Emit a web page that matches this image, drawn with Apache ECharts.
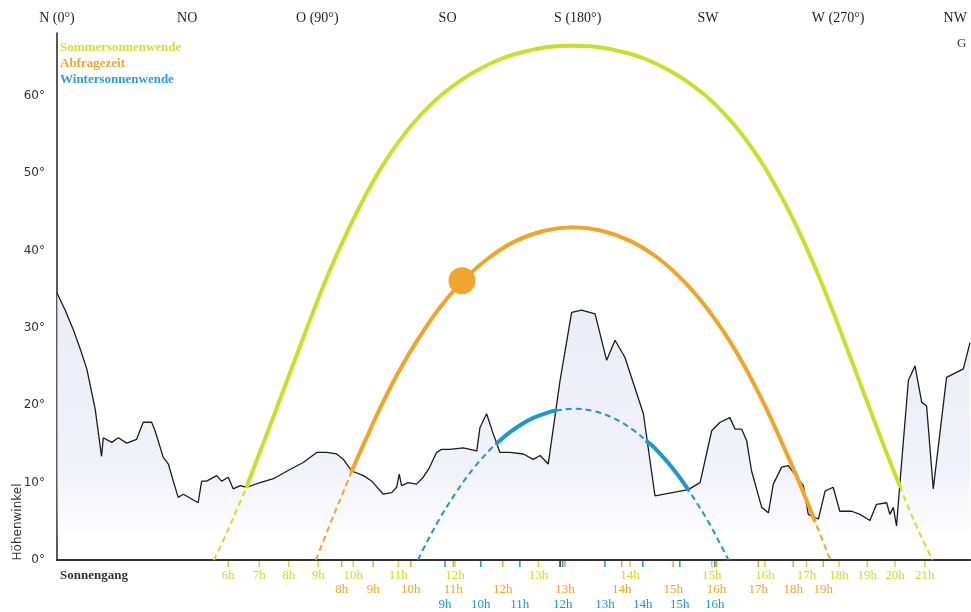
<!DOCTYPE html>
<html>
<head>
<meta charset="utf-8">
<script src="https://cdn.jsdelivr.net/npm/echarts@6/dist/echarts.min.js"></script>
<style>
  html, body { margin: 0; padding: 0; background: #ffffff; }
  #chart { width: 971px; height: 612px; }
</style>
</head>
<body>
<div id="chart"></div>
<script>
// Compass directions along the top axis (azimuth, degrees)
const compassTicks = [0, 45, 90, 135, 180, 225, 270, 315];
const compassNames = ['N (0°)', 'NO', 'O (90°)', 'SO', 'S (180°)', 'SW', 'W (270°)', 'NW'];

// Terrain horizon: [azimuth, elevation]
const horizonProfile = [
  [0, 34.5], [2.8, 32.3], [5.6, 29.8], [8.0, 27.3], [10.3, 24.7], [13.2, 19.5], [15.4, 13.4],
  [16.0, 15.8], [18.9, 15.2], [21.2, 15.8], [24.1, 15.1], [27.5, 15.6], [29.8, 17.8], [32.7, 17.8],
  [33.9, 16.7], [36.7, 13.3], [38.5, 12.4], [40.2, 10.2], [41.9, 8.1], [43.7, 8.5], [48.8, 7.4],
  [50.0, 10.2], [51.7, 10.2], [55.2, 10.9], [56.9, 10.2], [59.2, 10.7], [60.9, 9.2], [63.3, 9.6],
  [65.6, 9.4], [70.2, 10.0], [74.8, 10.5], [80.5, 11.7], [85.1, 12.6], [89.8, 13.9], [93.2, 13.9],
  [96.7, 13.7], [99.0, 13.0], [101.9, 11.5], [105.9, 10.9], [108.8, 10.2], [112.8, 8.5], [115.7, 8.7],
  [117.4, 9.4], [118.3, 11.1], [119.1, 9.6], [121.4, 10.0], [124.3, 9.8], [126.6, 10.7], [128.4, 11.7],
  [131.2, 13.9], [132.9, 14.3], [135.8, 14.3], [140.4, 14.5], [145.1, 14.1], [146.2, 17.1], [148.5, 18.9],
  [150.8, 16.3], [152.1, 15.0], [153.1, 13.9], [156.6, 13.9], [161.2, 13.7], [164.6, 13.0], [167.0, 13.5],
  [169.8, 12.4], [173.9, 23.2], [177.9, 32.0], [181.3, 32.3], [186.0, 31.8], [190.0, 25.8], [192.9, 28.4],
  [196.3, 26.2], [202.7, 18.9], [206.7, 8.3], [218.2, 9.1], [222.3, 10.0], [226.3, 16.7], [229.2, 17.8],
  [232.6, 18.4], [234.4, 16.9], [236.7, 16.9], [238.4, 15.4], [240.1, 11.5], [243.6, 6.8], [245.9, 6.1],
  [247.6, 9.8], [250.5, 12.0], [252.8, 12.2], [255.7, 10.7], [258.0, 9.6], [259.7, 5.9], [263.2, 5.3],
  [265.5, 8.9], [268.3, 9.4], [270.6, 6.3], [274.7, 6.3], [277.6, 5.9], [281.0, 5.1], [283.3, 7.2],
  [286.8, 7.4], [287.9, 5.9], [289.1, 6.8], [290.2, 4.4], [291.3, 9.6], [294.3, 23.2], [296.6, 25.1],
  [298.9, 20.4], [300.6, 19.9], [302.9, 9.2], [307.5, 23.6], [313.3, 24.7], [315.6, 28.1]
];

// Sun paths: [azimuth, elevation]
const summerPath = [
  [54.2, 0], [58.0, 2.95], [63.2, 7.41], [65.6, 9.5], [68.2, 12.08], [73.2, 16.91], [78.2, 21.88],
  [83.3, 26.92], [88.5, 32.03], [94.0, 37.14], [100.1, 42.21], [106.7, 47.17], [114.2, 51.93],
  [123.1, 56.4], [133.7, 60.34], [146.6, 63.55], [161.5, 65.67], [178.4, 66.44], [195.3, 65.67],
  [210.2, 63.55], [223.1, 60.34], [233.7, 56.4], [242.6, 51.93], [250.1, 47.17], [256.8, 42.21],
  [262.8, 37.14], [268.3, 32.03], [273.5, 26.92], [278.6, 21.88], [283.6, 16.91], [288.6, 12.08],
  [291.3, 9.6], [293.6, 7.41], [298.8, 2.95], [302.6, 0]
];
const summerVisible = [[65.6, 291.3]];

const queryPath = [
  [89.5, 0], [94.9, 5.11], [100.5, 10.17], [101.9, 11.5], [106.2, 15.13], [112.1, 19.94], [118.4, 24.53],
  [125.3, 28.83], [132.6, 32.76], [140.6, 36.2], [149.3, 39.06], [158.5, 41.21], [168.5, 42.55],
  [178.4, 43.0], [188.3, 42.55], [198.3, 41.21], [207.6, 39.06], [216.2, 36.2], [224.2, 32.76],
  [231.6, 28.83], [238.4, 24.53], [244.7, 19.94], [250.6, 15.13], [256.4, 10.17], [261.9, 5.11], [267.3, 0]
];
const queryVisible = [[101.9, 261.9]];

const winterPath = [
  [124.8, 0], [126.4, 1.26], [132.0, 5.16], [137.9, 8.71], [144.0, 11.86], [150.4, 14.54], [152.1, 15.1],
  [157.2, 16.69], [164.1, 18.27], [171.2, 19.23], [172.4, 19.3], [178.4, 19.56], [185.6, 19.23],
  [192.7, 18.27], [199.6, 16.69], [204.0, 15.3], [206.4, 14.54], [212.8, 11.86], [218.2, 9.1],
  [218.9, 8.71], [224.8, 5.16], [230.4, 1.26], [232.1, 0]
];
const winterVisible = [[152.1, 172.4], [204.0, 218.2]];

// Current sun position
const sunPosition = [140.0, 36.1];

// Hour marks along the azimuth axis
const summerHourLabels = ['6h','7h','8h','9h','10h','11h','12h','13h','14h','15h','16h','17h','18h','19h','20h','21h'];
const summerHourAz = [59.2, 69.9, 80.1, 90.3, 102.4, 118.0, 137.6, 166.4, 198.1, 226.3, 244.7, 259.1, 270.3, 280.1, 289.7, 300.0];
const queryHourLabels = ['8h','9h','10h','11h','12h','13h','14h','15h','16h','17h','18h','19h'];
const queryHourAz = [98.4, 109.3, 122.3, 137.0, 154.1, 175.6, 195.2, 213.0, 228.0, 242.4, 254.5, 264.9];
const winterHourLabels = ['9h','10h','11h','12h','13h','14h','15h','16h'];
const winterHourAz = [134.1, 146.5, 160.0, 174.8, 189.4, 202.5, 215.3, 227.4];
const noonMarkAz = [173.9];

const COL_SUMMER = '#c8e02c';
const COL_QUERY = '#f0a52a';
const COL_WINTER = '#1e97c9';
const SERIF = '"Liberation Serif", "DejaVu Serif", serif';
const SANS = '"DejaVu Sans", Verdana, sans-serif';

function pathSeries(path, visible, color) {
  const list = [{
    type: 'line', data: path, showSymbol: false, symbol: 'none', smooth: 0.4, z: 3,
    lineStyle: { color: color, width: 2, type: [6, 4] }, silent: true
  }];
  visible.forEach(function (r) {
    list.push({
      type: 'line', data: path.filter(function (p) { return p[0] >= r[0] && p[0] <= r[1]; }),
      showSymbol: false, symbol: 'none', smooth: 0.4, z: 4,
      lineStyle: { color: color, width: 4, cap: 'round' }, silent: true
    });
  });
  return list;
}

function hourSeries(az, labels, color, dy) {
  return {
    type: 'scatter', clip: false, z: 6, silent: true,
    data: az.map(function (a, i) { return { value: [a, 0], name: labels ? labels[i] : '' }; }),
    symbol: 'rect', symbolSize: [1.5, 6], symbolOffset: [0, 4],
    itemStyle: { color: color, opacity: 1 },
    label: {
      show: !!labels, position: 'inside', offset: [0, dy], formatter: '{b}',
      color: color, fontFamily: SERIF, fontSize: 13
    }
  };
}

const chart = echarts.init(document.getElementById('chart'), null, { renderer: 'canvas' });

const series = [
  {
    type: 'line', data: horizonProfile, showSymbol: false, symbol: 'none', z: 2, silent: true,
    lineStyle: { color: '#1c1c1c', width: 1.3 },
    areaStyle: {
      origin: 'start',
      color: {
        type: 'linear', x: 0, y: 290, x2: 0, y2: 548, global: true,
        colorStops: [
          { offset: 0, color: 'rgba(226,226,243,0.95)' },
          { offset: 0.7, color: 'rgba(232,232,246,0.85)' },
          { offset: 0.88, color: 'rgba(238,238,248,0.45)' },
          { offset: 1, color: 'rgba(255,255,255,0)' }
        ]
      }
    }
  }
]
  .concat(pathSeries(winterPath, winterVisible, COL_WINTER))
  .concat(pathSeries(queryPath, queryVisible, COL_QUERY))
  .concat(pathSeries(summerPath, summerVisible, COL_SUMMER))
  .concat([
    {
      type: 'scatter', data: [sunPosition], symbol: 'circle', symbolSize: 27, z: 7, silent: true,
      itemStyle: { color: '#f2a52c', opacity: 1 }
    },
    hourSeries(summerHourAz, summerHourLabels, COL_SUMMER, 12),
    hourSeries(queryHourAz, queryHourLabels, COL_QUERY, 26),
    hourSeries(winterHourAz, winterHourLabels, COL_WINTER, 41),
    hourSeries(noonMarkAz, null, '#222222', 0)
  ]);

chart.setOption({
  animation: false,
  backgroundColor: '#ffffff',
  grid: { left: 57, right: 1, top: 33, bottom: 52, containLabel: false },
  xAxis: [
    {
      type: 'value', position: 'bottom', min: 0, max: 315.6,
      axisLine: { show: true, onZero: false, lineStyle: { color: '#222', width: 2 } },
      axisTick: { show: false }, axisLabel: { show: false }, splitLine: { show: false }
    },
    {
      type: 'value', position: 'top', min: 0, max: 315.6, interval: 45,
      axisLine: { show: true, lineStyle: { color: '#333', width: 2 } },
      axisTick: { show: false }, splitLine: { show: false },
      axisLabel: {
        margin: 8, color: '#222', fontFamily: SERIF, fontSize: 14,
        showMaxLabel: false,
        formatter: function (v) {
          const i = compassTicks.indexOf(v);
          if (i < 0) return '';
          return i === compassTicks.length - 1 ? '{r|' + compassNames[i] + '}' : compassNames[i];
        },
        rich: { r: { padding: [0, 26, 0, 0], color: '#222', fontFamily: SERIF, fontSize: 14 } }
      }
    }
  ],
  yAxis: {
    type: 'value', min: 0, max: 68.1, interval: 10,
    axisLine: { show: true, lineStyle: { color: '#222', width: 1.5 } },
    axisTick: { show: false }, splitLine: { show: false },
    axisLabel: {
      margin: 12, color: '#333', fontFamily: SANS, fontSize: 12, showMaxLabel: false,
      formatter: function (v) { return (Math.round(v) % 10 === 0 && Math.abs(v - Math.round(v)) < 1e-6) ? v + '°' : ''; }
    }
  },
  graphic: [
    { type: 'text', left: 60, top: 41, silent: true,
      style: { text: 'Sommersonnenwende', fill: '#cfe03a', font: 'bold 13px ' + SERIF } },
    { type: 'text', left: 60, top: 57, silent: true,
      style: { text: 'Abfragezeit', fill: '#eda52e', font: 'bold 13px ' + SERIF } },
    { type: 'text', left: 60, top: 73, silent: true,
      style: { text: 'Wintersonnenwende', fill: '#2a9fd4', font: 'bold 13px ' + SERIF } },
    { type: 'text', left: 957, top: 37, silent: true,
      style: { text: 'G', fill: '#333', font: '13px ' + SERIF } },
    { type: 'text', left: 60, top: 569, silent: true,
      style: { text: 'Sonnengang', fill: '#333', font: 'bold 13px ' + SERIF } },
    { type: 'text', x: 18, y: 522, rotation: Math.PI / 2, silent: true,
      style: { text: 'Höhenwinkel', fill: '#333', font: '12px ' + SANS, textAlign: 'center', textVerticalAlign: 'middle' } }
  ],
  series: series
});
</script>
</body>
</html>
